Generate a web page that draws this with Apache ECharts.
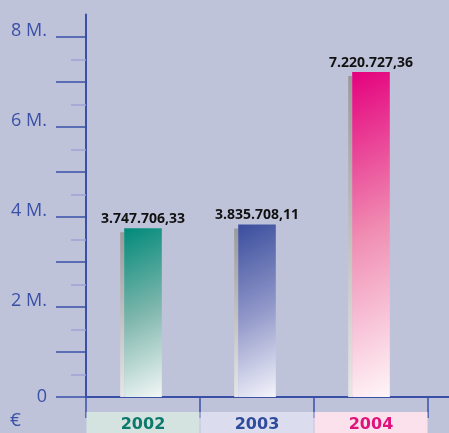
<!DOCTYPE html>
<html>
<head>
<meta charset="utf-8">
<script src="https://cdn.jsdelivr.net/npm/echarts@6/dist/echarts.min.js"></script>
<style>
  html, body { margin: 0; padding: 0; background: #bfc3da; }
  #chart { width: 449px; height: 433px; }
</style>
</head>
<body>
<div id="chart"></div>
<script>
// Données du graphique (en millions d'euros)
var years = ["2002", "2003", "2004"];
var values = [3.74770633, 3.83570811, 7.22072736];
var valueLabels = ["3.747.706,33", "3.835.708,11", "7.220.727,36"];
var majorTicks = [0, 1, 2, 3, 4, 5, 6, 7, 8];
var minorTicks = [0.5, 1.5, 2.5, 3.5, 4.5, 5.5, 6.5, 7.5];
var yLabelValues = [0, 2, 4, 6, 8];
var yLabelTexts = ["0", "2 M.", "4 M.", "6 M.", "8 M."];

var axisColor = "#3a50a6";
var barTops = ["#008a7a", "#3a4d9d", "#e4007d"];
var barMids = ["#7db6ac", "#8f96c8", "#f08fb3"];
var barBottoms = ["#f3f7f6", "#f4f4fb", "#fff6f9"];
var boxColors = ["#d4e3df", "#dcdcef", "#fbe1eb"];
var textColors = ["#0b7a6c", "#2f4c9c", "#e0127c"];

var chart = echarts.init(document.getElementById("chart"));

var rich = {};
years.forEach(function (y, i) {
  rich["c" + i] = {
    backgroundColor: boxColors[i],
    color: textColors[i],
    width: 113,
    height: 26,
    lineHeight: 26,
    align: "center",
    fontSize: 16,
    fontWeight: "bold",
    fontFamily: "DejaVu Sans"
  };
});

// Barre avec ombre grise et dégradé diagonal
function renderBar(params, api) {
  var i = api.value(0);
  var top = api.coord([i, api.value(1)]);
  var base = api.coord([i, 0]);
  var w = api.size([1, 0])[0] * 0.33;
  var x0 = top[0] - w / 2;
  var h = base[1] - top[1];
  var k = (0.5 * w + h) / 1.25;
  return {
    type: "group",
    children: [
      {
        type: "rect",
        shape: { x: x0 - 4, y: top[1] + 4, width: 4, height: h - 4 },
        style: {
          fill: new echarts.graphic.LinearGradient(0, 0, 0, 1, [
            { offset: 0, color: "#9a9a9a" },
            { offset: 1, color: "#e6e6e6" }
          ])
        }
      },
      {
        type: "rect",
        shape: { x: x0, y: top[1], width: w, height: h },
        style: {
          fill: new echarts.graphic.LinearGradient(
            x0, top[1], x0 + 0.5 * k, top[1] + k,
            [
              { offset: 0, color: barTops[i] },
              { offset: 0.5, color: barMids[i] },
              { offset: 1, color: barBottoms[i] }
            ],
            true
          )
        }
      },
      {
        type: "text",
        x: top[0],
        y: top[1] - 2,
        style: {
          text: valueLabels[i],
          fill: "#111",
          fontSize: 14,
          fontWeight: "bold",
          fontFamily: "Open Sans",
          align: "center",
          verticalAlign: "bottom"
        }
      }
    ]
  };
}

var option = {
  backgroundColor: "#bfc3da",
  animation: false,
  grid: { left: 86, right: 21, top: 14.5, bottom: 36, containLabel: false, outerBoundsMode: "none" },
  xAxis: {
    type: "category",
    data: years,
    axisLine: { lineStyle: { color: axisColor, width: 2 } },
    axisTick: { show: true, length: 21, lineStyle: { color: axisColor, width: 1.5 } },
    axisLabel: {
      margin: 15,
      formatter: function (v) {
        return "{c" + years.indexOf(v) + "|" + v + "}";
      },
      rich: rich
    }
  },
  yAxis: [
    {
      type: "value",
      min: 0,
      max: 8.5,
      splitLine: { show: false },
      axisLine: { show: true, lineStyle: { color: axisColor, width: 2 } },
      axisTick: {
        show: true,
        length: 30,
        customValues: majorTicks,
        lineStyle: { color: axisColor, width: 1.5 }
      },
      axisLabel: {
        customValues: yLabelValues,
        margin: 39,
        color: axisColor,
        fontSize: 18,
        fontFamily: "Open Sans",
        formatter: function (v) {
          var t = yLabelTexts[yLabelValues.indexOf(v)];
          return v === 0 ? "{z|" + t + "}" : "{m|" + t + "}";
        },
        rich: {
          z: { fontSize: 18, fontFamily: "Open Sans", color: axisColor },
          m: { fontSize: 18, fontFamily: "Open Sans", color: axisColor, padding: [0, 0, 12, 0] }
        }
      }
    },
    {
      type: "value",
      min: 0,
      max: 8.5,
      position: "left",
      splitLine: { show: false },
      axisLine: { show: false },
      axisTick: {
        show: true,
        length: 15,
        customValues: minorTicks,
        lineStyle: { color: "#9ea3d3", width: 1.5 }
      },
      axisLabel: { show: false }
    }
  ],
  graphic: [
    {
      type: "line",
      shape: { x1: 428, y1: 397, x2: 449, y2: 397 },
      style: { stroke: axisColor, lineWidth: 2 }
    },
    {
      type: "text",
      left: 10,
      top: 411,
      style: { text: "€", fill: axisColor, fontSize: 19, fontFamily: "Open Sans" }
    }
  ],
  series: [
    {
      type: "custom",
      z: 2,
      data: values.map(function (v, i) { return [i, v]; }),
      renderItem: renderBar
    }
  ]
};

chart.setOption(option);
</script>
</body>
</html>
